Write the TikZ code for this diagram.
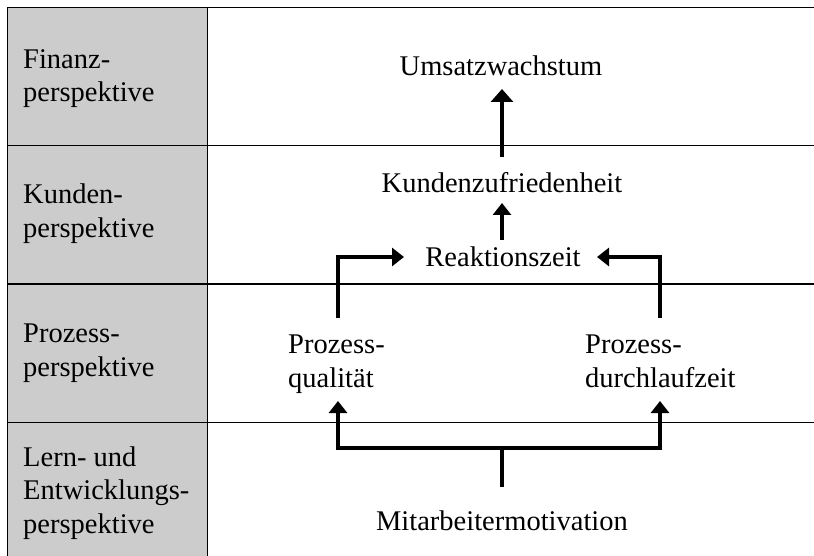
\documentclass[tikz,border=0pt]{standalone}
\usepackage{fontspec}
\setmainfont{Liberation Serif}
\usetikzlibrary{arrows.meta}
\definecolor{lgray}{HTML}{CCCCCC}
\tikzset{
  txt/.style={inner sep=0pt, font=\fontsize{28.5}{33.5}\selectfont},
  lbl/.style={txt, align=left, anchor=base west},
  grid/.style={line width=1.8pt, line cap=rect},
  arr/.style={line width=3.5pt, -{Triangle[width=18pt,length=12pt]}},
  bigarr/.style={line width=4.5pt, -{Triangle[width=22pt,length=13pt]}}
}
\begin{document}
\begin{tikzpicture}[x=1pt,y=-1pt]
\useasboundingbox (0,0) rectangle (814,556);
% gray column
\fill[lgray] (7.5,7.5) rectangle (207.5,560);
% grid
\draw[grid] (7.5,560) -- (7.5,7.5) -- (820,7.5);
\draw[grid] (207.5,7.5) -- (207.5,560);
\draw[grid] (7.5,145.5) -- (820,145.5);
\draw[grid] (7.5,284) -- (820,284);
\draw[grid] (7.5,422.5) -- (820,422.5);
% left labels (anchor = baseline of last line)
\node[lbl] (l1) at (23,102) {Finanz-\\perspektive};
\node[lbl] (l2) at (23,237) {Kunden-\\perspektive};
\node[lbl] (l3) at (23,376) {Prozess-\\perspektive};
\node[lbl] (l4) at (23,533) {Lern- und\\Entwicklungs-\\perspektive};
% content
\node[txt, anchor=base] (um) at (501,76) {Umsatzwachstum};
\node[txt, anchor=base] (kz) at (502,193) {Kundenzufriedenheit};
\node[txt, anchor=base] (rz) at (503,266) {Reaktionszeit};
\node[lbl] (pq) at (288,387) {Prozess-\\qualität};
\node[lbl] (pd) at (585,387) {Prozess-\\durchlaufzeit};
\node[txt, anchor=base] (mm) at (502,530) {Mitarbeitermotivation};
% connector points
\coordinate (kzt) at (502,157);
\coordinate (umb) at (502,89);
\coordinate (rzt) at (502,240);
\coordinate (kzb) at (502,203);
\coordinate (pqt) at (338,318);
\coordinate (rzl) at (404,257);
\coordinate (pdt) at (660,318);
\coordinate (rzr) at (597,257);
\coordinate (mmt) at (502,487);
\coordinate (br) at (502,448);
\coordinate (pqb) at (338,401);
\coordinate (pdb) at (660,401);
% arrows
\draw[bigarr] (kzt) -- (umb);
\draw[arr] (rzt) -- (kzb);
\draw[arr] (pqt) |- (rzl);
\draw[arr] (pdt) |- (rzr);
\draw[line width=3.5pt] (mmt) -- (br);
\draw[arr] (br) -| (pqb);
\draw[arr] (br) -| (pdb);
\end{tikzpicture}
\end{document}
